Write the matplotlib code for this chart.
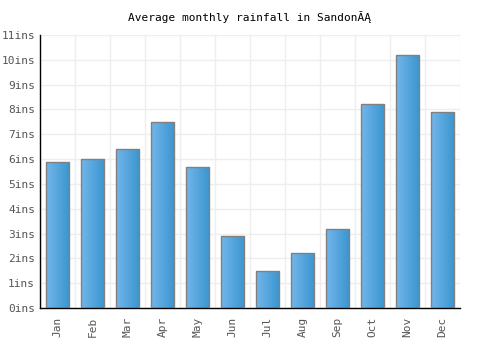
import numpy as np
import matplotlib.pyplot as plt
from matplotlib.colors import LinearSegmentedColormap

plt.rcParams.update({'font.family': 'DejaVu Sans Mono', 'font.size': 8})

months = ['Jan', 'Feb', 'Mar', 'Apr', 'May', 'Jun', 'Jul', 'Aug', 'Sep', 'Oct', 'Nov', 'Dec']
rainfall = [5.9, 6.0, 6.4, 7.5, 5.7, 2.9, 1.5, 2.2, 3.2, 8.2, 10.2, 7.9]
yticks = list(range(0, 12))
title = 'Average monthly rainfall in SandonĂĄ'

fig = plt.figure(figsize=(5, 3.5), dpi=100)
ax = fig.add_axes([0.08, 0.12, 0.84, 0.78])

x = np.arange(len(months))
bars = ax.bar(x, rainfall, width=0.68, color='none', edgecolor='#808080', linewidth=1, zorder=3)

cmap = LinearSegmentedColormap.from_list('bar', ['#72b6ea', '#3a95cf'])
grad = np.linspace(0, 1, 64).reshape(1, -1)
for b in bars:
	x0, y0 = b.get_x(), b.get_y()
	im = ax.imshow(grad, cmap=cmap, aspect='auto', zorder=2,
		extent=[x0, x0 + b.get_width(), y0, y0 + b.get_height()])
	im.set_clip_path(b)

ax.set_xlim(-0.5, len(months) - 0.5)
ax.set_ylim(0, 11)
ax.set_xticks(x)
ax.set_xticklabels(months, rotation=90, color='#555555')
ax.set_yticks(yticks)
ax.set_yticklabels([f'{v}ins' for v in yticks], color='#555555')
ax.set_xticks(np.arange(-0.5, len(months)), minor=True)
ax.tick_params(which='both', length=0)
ax.tick_params(axis='x', pad=6)
ax.grid(True, axis='y', color='#eeeeee', linewidth=1, zorder=0)
ax.grid(True, axis='x', which='minor', color='#eeeeee', linewidth=1, zorder=0)
for s in ['top', 'right']:
	ax.spines[s].set_visible(False)
for s in ['left', 'bottom']:
	ax.spines[s].set_color('black')
	ax.spines[s].set_linewidth(1)

fig.text(0.5, 0.951, title, ha='center', va='center', fontsize=8)
fig.savefig('out.png')
